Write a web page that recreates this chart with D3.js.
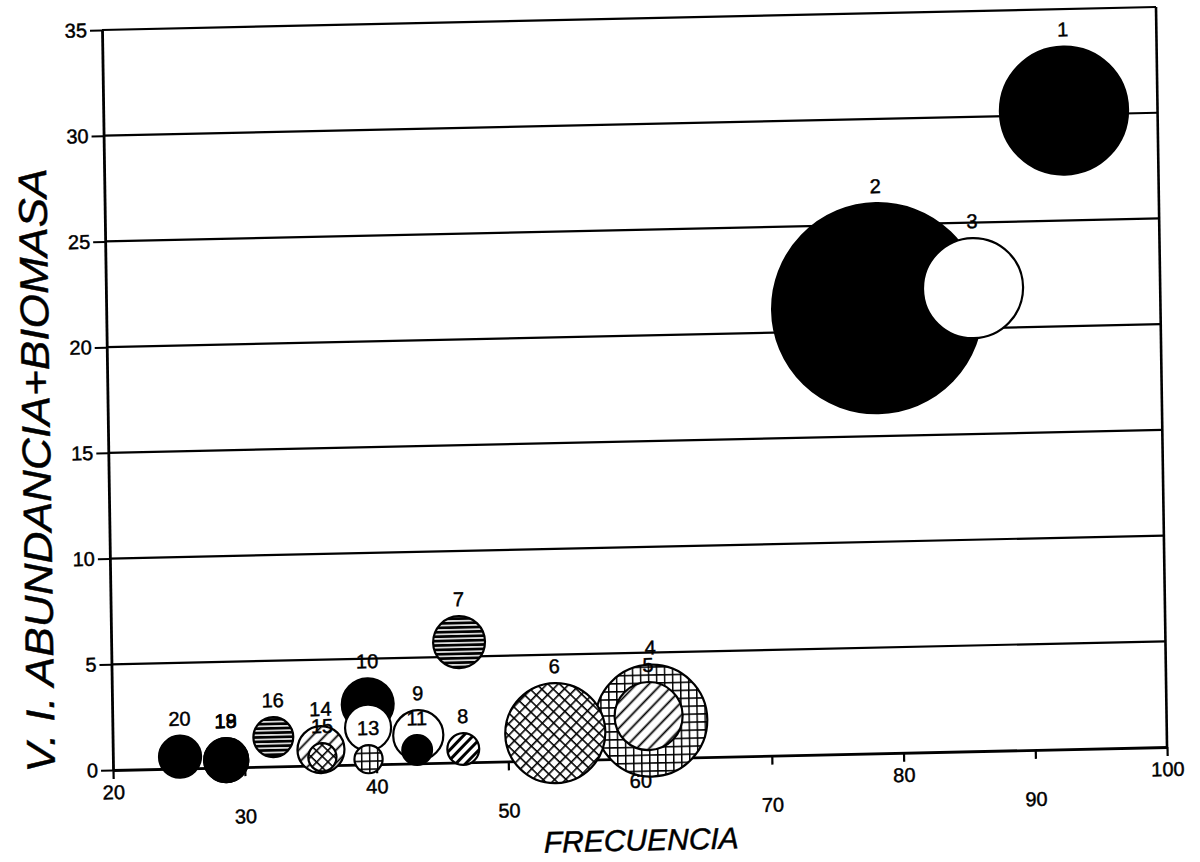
<!DOCTYPE html>
<html>
<head>
<meta charset="utf-8">
<script src="https://cdn.jsdelivr.net/npm/d3@7"></script>
<style>
  html, body { margin: 0; padding: 0; background: #fff; }
  svg { display: block; }
  text { font-family: "Liberation Sans", Arial, Helvetica, sans-serif; fill: #000; stroke: #000; stroke-width: 0.45px; }
</style>
</head>
<body>
<svg id="chart" width="1200" height="862"></svg>
<script>
// Species number, frequency (%) and importance value (abundance + biomass)
const especies = ["1", "2", "3", "4", "5", "6", "7", "8", "9", "10",
                  "11", "12", "13", "14", "15", "16", "18", "19", "20"];
const frecuencia = [92.9, 78.5, 85.8, 60.9, 60.7, 53.6, 46.4, 46.6, 43.2, 39.4,
                    43.1, 39.4, 39.4, 35.8, 35.9, 32.2, 28.6, 28.6, 25.1];
const valorImportancia = [30.2, 21.05, 21.9, 1.78, 2.0, 1.29, 5.69, 0.63, 1.33, 2.85,
                          0.63, 1.74, 0.25, 0.75, 0.39, 1.39, 0.35, 0.35, 0.56];
// Relative bubble size (area units)
const tamano = [37.2, 100, 22.7, 28.4, 10.5, 22.7, 6.1, 2.3, 5.7, 6.1,
                2.0, 4.8, 1.8, 5.0, 1.8, 3.6, 4.4, 4.4, 4.0];
// Group of each species (drawn with its own fill)
const grupo = ["lleno", "lleno", "vacio", "cuadros", "rayas", "rombos", "horizontal", "rayasGruesas", "vacio", "lleno",
               "lleno", "vacio", "cuadros", "rayas", "rombos", "horizontal", "lleno", "lleno", "lleno"];

const xTicks = [20, 30, 40, 50, 60, 70, 80, 90, 100];
const yTicks = [0, 5, 10, 15, 20, 25, 30, 35];
const tituloX = "FRECUENCIA";
const tituloY = "V. I. ABUNDANCIA+BIOMASA";

const W = 1054, H = 740;
const svg = d3.select("#chart");
svg.append("rect").attr("width", 1200).attr("height", 862).attr("fill", "#fff");

// Fill patterns
const defs = svg.append("defs");
function pattern(id, size, transform, draw) {
  const p = defs.append("pattern").attr("id", id)
    .attr("patternUnits", "userSpaceOnUse")
    .attr("width", size.w).attr("height", size.h);
  if (transform) p.attr("patternTransform", transform);
  p.append("rect").attr("width", size.w).attr("height", size.h).attr("fill", "#fff");
  draw(p);
}
pattern("p-cuadros", {w: 8, h: 8}, null, p =>
  p.append("path").attr("d", "M0,0.7H8M0.7,0V8").attr("stroke", "#000").attr("stroke-width", 1.5));
pattern("p-rayas", {w: 9, h: 9}, "rotate(-45)", p =>
  p.append("path").attr("d", "M0,4.5H9").attr("stroke", "#000").attr("stroke-width", 1.8));
pattern("p-rayasGruesas", {w: 7, h: 7}, "rotate(-45)", p =>
  p.append("path").attr("d", "M0,3.5H7").attr("stroke", "#000").attr("stroke-width", 3));
pattern("p-rombos", {w: 8, h: 8}, "rotate(45)", p =>
  p.append("path").attr("d", "M0,0.8H8M0.8,0V8").attr("stroke", "#000").attr("stroke-width", 1.6));
pattern("p-horizontal", {w: 6, h: 4.4}, null, p =>
  p.append("path").attr("d", "M0,2.2H6").attr("stroke", "#000").attr("stroke-width", 2.9));

const fill = d3.scaleOrdinal()
  .domain(["lleno", "vacio", "cuadros", "rayas", "rayasGruesas", "rombos", "horizontal"])
  .range(["#000", "#fff", "url(#p-cuadros)", "url(#p-rayas)", "url(#p-rayasGruesas)",
          "url(#p-rombos)", "url(#p-horizontal)"]);

// Plot frame, slightly tilted as on the printed page
const g = svg.append("g").attr("transform", "matrix(1,-0.0218,0.0149,1,102,30)");

const x = d3.scaleLinear().domain([20, 100]).range([0, W]);
const y = d3.scaleLinear().domain([0, 35]).range([H, 0]);
const r = d3.scaleSqrt().domain([0, 100]).range([0, 105]);

// Horizontal gridlines
g.append("g").selectAll("line").data(yTicks.filter(d => d > 0)).join("line")
  .attr("x1", x(20)).attr("x2", x(100))
  .attr("y1", d => y(d)).attr("y2", d => y(d))
  .attr("stroke", "#000").attr("stroke-width", 2.2);

// Right border
g.append("line").attr("x1", x(100)).attr("x2", x(100)).attr("y1", y(0)).attr("y2", y(35))
  .attr("stroke", "#000").attr("stroke-width", 2.6);

// Y axis
const yAxis = g.append("g")
  .call(d3.axisLeft(y).tickValues(yTicks).tickSize(12).tickPadding(3).tickSizeOuter(0));
yAxis.select(".domain").attr("stroke", "#000").attr("stroke-width", 2.8);
yAxis.selectAll(".tick line").attr("stroke", "#000").attr("stroke-width", 2);
yAxis.selectAll(".tick text").style("font-size", "20px").attr("fill", "#000");

// X axis, labels staggered on two rows
const xAxis = g.append("g").attr("transform", `translate(0,${H})`)
  .call(d3.axisBottom(x).tickValues(xTicks).tickSize(9).tickPadding(8).tickSizeOuter(0));
xAxis.select(".domain").attr("stroke", "#000").attr("stroke-width", 2.8);
xAxis.selectAll(".tick line").attr("stroke", "#000").attr("stroke-width", 2.2);
xAxis.selectAll(".tick text").style("font-size", "20px").attr("fill", "#000")
  .attr("y", (d, i) => i % 2 ? 42 : 15);

// Bubbles
const datos = especies.map((e, i) => ({
  e, fx: frecuencia[i], vi: valorImportancia[i], t: tamano[i], grp: grupo[i]
}));

g.append("g").selectAll("circle").data(datos).join("circle")
  .attr("cx", d => x(d.fx)).attr("cy", d => y(d.vi)).attr("r", d => r(d.t))
  .attr("fill", d => fill(d.grp))
  .attr("stroke", "#000").attr("stroke-width", 2.2);

// Species numbers above each bubble
g.append("g").selectAll("text").data(datos).join("text")
  .attr("x", d => x(d.fx)).attr("y", d => y(d.vi) - r(d.t) - 10)
  .attr("text-anchor", "middle")
  .style("font-size", "20px")
  .text(d => d.e);

// Axis titles
g.append("text")
  .attr("x", W / 2).attr("y", H + 92)
  .attr("text-anchor", "middle")
  .style("font-size", "30px").style("font-style", "italic")
  .text(tituloX);

g.append("text")
  .attr("transform", `translate(-58,439) rotate(-90)`)
  .attr("text-anchor", "middle")
  .attr("textLength", 604).attr("lengthAdjust", "spacingAndGlyphs")
  .style("font-size", "40px").style("font-style", "italic")
  .text(tituloY);
</script>
</body>
</html>
